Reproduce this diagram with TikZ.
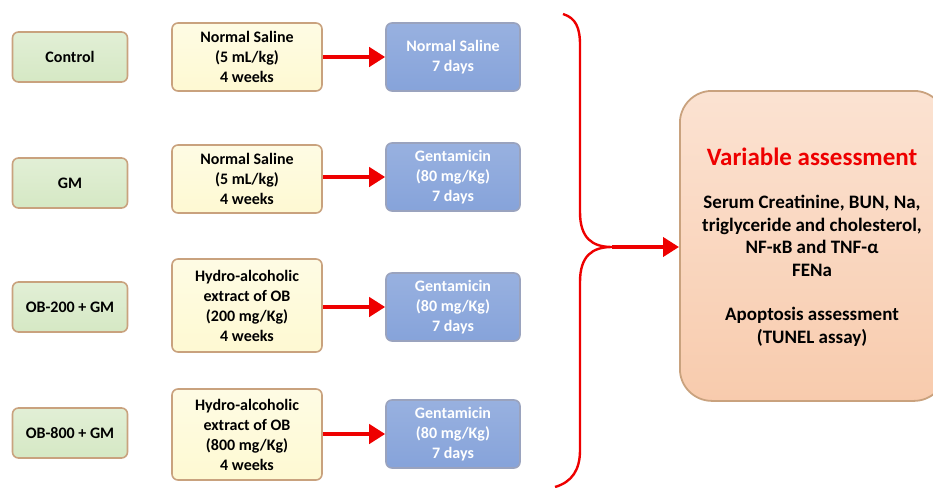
\documentclass[tikz,border=0pt]{standalone}
\usepackage{fontspec}
\setmainfont{Carlito}
\usetikzlibrary{arrows.meta}
\definecolor{tanedge}{HTML}{C9A27E}
\definecolor{grpfill}{HTML}{D5E8C4}
\definecolor{dosefill}{HTML}{FEF9D2}
\definecolor{injfill}{HTML}{86A3DA}
\definecolor{resfill}{HTML}{F8CBAD}
\definecolor{arrred}{HTML}{EE0000}
\tikzset{
  box/.style={draw=tanedge, line width=1.6pt, rounded corners=6pt, align=center,
    font=\bfseries\fontsize{16}{20}\selectfont, inner sep=2pt},
  groupbox/.style={box, top color=grpfill!70!white, bottom color=grpfill, minimum width=115pt, minimum height=50pt},
  dosebox/.style={box, top color=dosefill!60!white, bottom color=dosefill, minimum width=150pt},
  injbox/.style={box, draw=injfill!70!tanedge, top color=injfill!85!white, bottom color=injfill, text=white, minimum width=134pt, minimum height=68pt},
  redarrow/.style={arrred, line width=4.5pt, -{Triangle[length=16pt,width=19pt]}},
}
\begin{document}
\begin{tikzpicture}[x=1pt, y=-1pt]
\useasboundingbox (0,0) rectangle (933,487);
% treatment groups
\node[groupbox] (ctl) at (70,57) {Control};
\node[groupbox] (gm) at (70,183) {GM};
\node[groupbox] (ob2) at (70,307) {OB-200 + GM};
\node[groupbox] (ob8) at (70,433) {OB-800 + GM};
% pre-treatment
\node[dosebox, minimum height=68pt] (ctldose) at (247,57) {Normal Saline\\(5 mL/kg)\\4 weeks};
\node[dosebox, minimum height=68pt] (gmdose) at (247,179) {Normal Saline\\(5 mL/kg)\\4 weeks};
\node[dosebox, minimum height=93pt] (ob2dose) at (247,305.5) {Hydro-alcoholic\\extract of OB\\(200 mg/Kg)\\4 weeks};
\node[dosebox, minimum height=91pt] (ob8dose) at (247,434.5) {Hydro-alcoholic\\extract of OB\\(800 mg/Kg)\\4 weeks};
% injection
\node[injbox] (ctlinj) at (453,57) {Normal Saline\\7 days};
\node[injbox] (gminj) at (453,177) {Gentamicin\\(80 mg/Kg)\\7 days};
\node[injbox] (ob2inj) at (453,307) {Gentamicin\\(80 mg/Kg)\\7 days};
\node[injbox] (ob8inj) at (453,434) {Gentamicin\\(80 mg/Kg)\\7 days};
\draw[redarrow] (ctldose.east |- ctlinj) -- (ctlinj.west);
\draw[redarrow] (gmdose.east |- gminj) -- (gminj.west);
\draw[redarrow] (ob2dose.east |- ob2inj) -- (ob2inj.west);
\draw[redarrow] (ob8dose.east |- ob8inj) -- (ob8inj.west);
% assessment
\node[draw=tanedge, line width=1.8pt, rounded corners=32pt, top color=resfill!55!white, bottom color=resfill,
  minimum width=266pt, minimum height=310pt, anchor=north west, inner sep=0pt] (res) at (679,90) {};
\node[align=center, font=\bfseries\fontsize{25}{28}\selectfont, text=arrred] (restitle) at (812,157) {Variable assessment};
\node[align=center, font=\bfseries\fontsize{19}{22.5}\selectfont, anchor=north] (resbody) at (812,192)
  {Serum Creatinine, BUN, Na,\\triglyceride and cholesterol,\\NF-\symbol{"03BA}B and TNF-\symbol{"03B1}\\FENa\\[22pt]Apoptosis assessment\\(TUNEL assay)};
% brace
\coordinate (tip) at (612,247);
\draw[arrred, line width=2.4pt] (563,14) .. controls (576,18) and (580,28) .. (580,45)
  -- (580,212) .. controls (580,238) and (592,247) .. (tip)
  .. controls (592,247) and (580,256) .. (580,282)
  -- (580,450) .. controls (580,470) and (572,482) .. (555,487);
\draw[arrred, line width=4.5pt, -{Triangle[length=16pt,width=19pt]}] (tip) -- (res.west |- tip);
\end{tikzpicture}
\end{document}
